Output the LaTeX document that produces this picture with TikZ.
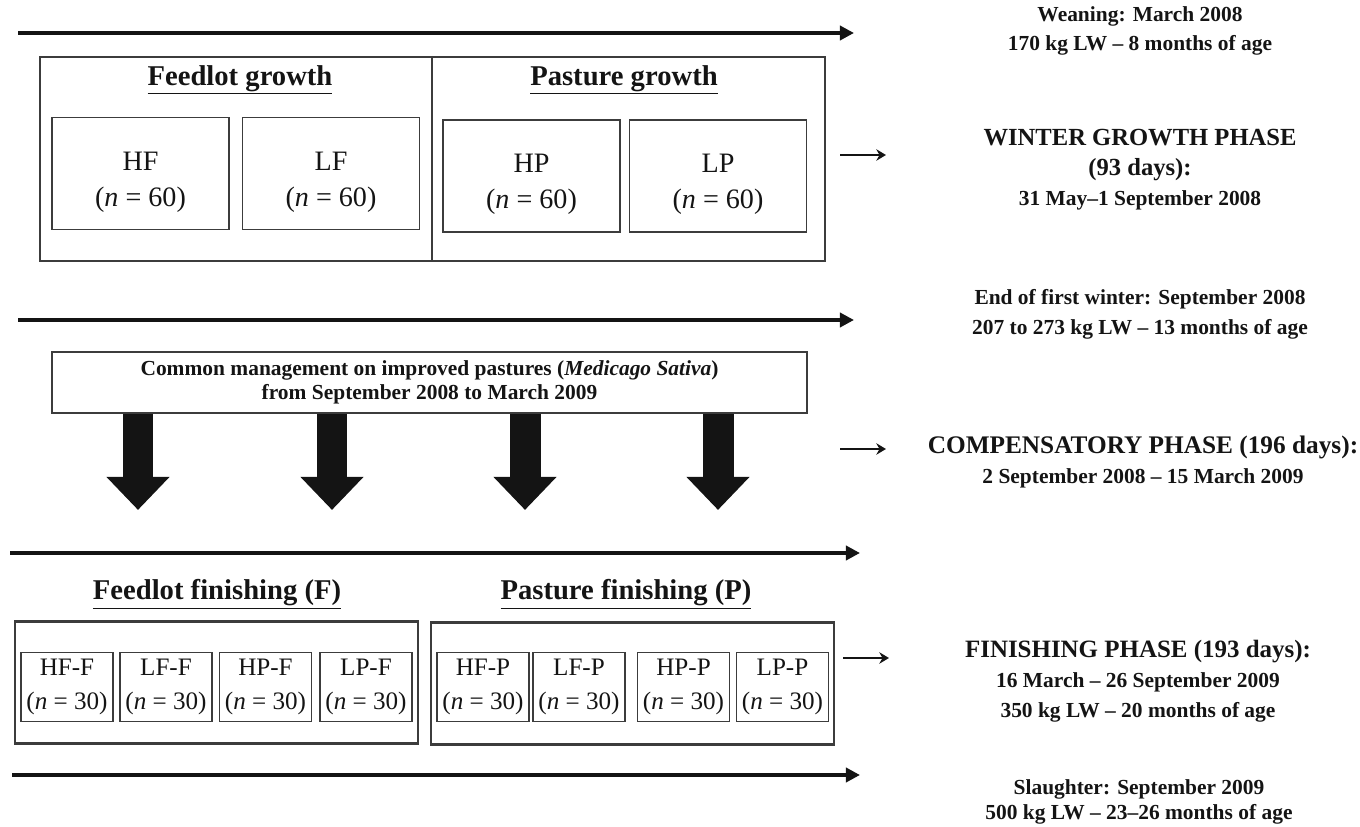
\documentclass[tikz,border=0pt]{standalone}
\usepackage{fontspec}
\setmainfont{Liberation Serif}
\definecolor{tlInk}{HTML}{141414}
\definecolor{tlBox}{HTML}{3C3C3C}
\usetikzlibrary{positioning,arrows.meta}

\tikzset{
  timeline/.style={line width=2.3pt, tlInk, -{Triangle[length=8pt,width=8pt]}},
  pointer/.style={line width=1.1pt, tlInk, -{Stealth[length=5.5pt,width=6.5pt]}},
  bigarrow/.style={line width=0.62cm, tlInk, -{Triangle[length=0.66cm,width=1.22cm]}},
  groupbox/.style={draw=tlBox, line width=1.2pt, minimum width=8.06cm, minimum height=2.44cm},
  grouphead/.style={font=\fontsize{16.3}{19}\selectfont\bfseries, text=tlInk},
  trtbig/.style={draw=tlBox, line width=1.1pt, align=center, minimum width=3.54cm, minimum height=2.24cm,
    font=\fontsize{16}{20.5}\selectfont, text=tlInk},
  trtsmall/.style={draw=tlBox, line width=1.1pt, align=center, minimum width=1.84cm, minimum height=1.38cm,
    inner sep=0pt, font=\fontsize{14.3}{19.3}\selectfont, text=tlInk},
  phasenote/.style={align=center, font=\fontsize{12.2}{17}\selectfont\bfseries, text=tlInk},
}
\newcommand{\trtstrut}{\rule{0pt}{20pt}}

\begin{document}
\begin{tikzpicture}[x=0.02cm,y=-0.02cm]
  \useasboundingbox (0,0) rectangle (1360,827);

  % time lines
  \coordinate (tlA0) at (18,33);   \coordinate (tlA1) at (854,33);
  \coordinate (tlB0) at (18,320);  \coordinate (tlB1) at (854,320);
  \coordinate (tlC0) at (10,553);  \coordinate (tlC1) at (860,553);
  \coordinate (tlD0) at (12,775);  \coordinate (tlD1) at (860,775);
  \draw[timeline] (tlA0) -- (tlA1);
  \draw[timeline] (tlB0) -- (tlB1);
  \draw[timeline] (tlC0) -- (tlC1);
  \draw[timeline] (tlD0) -- (tlD1);

  % winter growth
  \node[groupbox, minimum width=15.7cm, minimum height=4.08cm] (growth) at (432.5,159) {};
  \draw[groupbox] (growth.north -| 432,0) -- (growth.south -| 432,0);
  \node[grouphead] (fgHead) at (240,80) {\underline{Feedlot growth}};
  \node[grouphead] (pgHead) at (624,80) {\underline{Pasture growth}};
  \node[trtbig] (HF) at (140.5,173.5) {\trtstrut HF\\(\textit{n} = 60)};
  \node[trtbig] (LF) at (331,173.5) {\trtstrut LF\\(\textit{n} = 60)};
  \node[trtbig] (HP) at (531.5,176) {\trtstrut HP\\(\textit{n} = 60)};
  \node[trtbig] (LP) at (718,176) {\trtstrut LP\\(\textit{n} = 60)};

  % compensatory
  \node[draw=tlBox, line width=1.1pt, minimum width=15.1cm, minimum height=1.22cm, align=center,
    font=\fontsize{12.2}{13.8}\selectfont\bfseries, text=tlInk] (common) at (429.5,382.5)
    {Common management on improved pastures (\textit{Medicago Sativa})\\from September 2008 to March 2009};
  \foreach \x in {138,332,525,718}
    \draw[bigarrow] (common.south -| \x,0) -- ++(0,96);

  % finishing
  \node[grouphead] (ffHead) at (217,594) {\underline{Feedlot finishing (F)}};
  \node[grouphead] (pfHead) at (626,594) {\underline{Pasture finishing (P)}};
  \node[groupbox] (finF) at (216.5,682.5) {};
  \node[groupbox] (finP) at (632.5,683.5) {};
  \foreach \x/\lab in {67/HF-F,166/LF-F,265.5/HP-F,366/LP-F,483/HF-P,579/LF-P,683.5/HP-P,782.5/LP-P}
    \node[trtsmall] (\lab) at (\x,687) {\lab\\(\textit{n} = 30)};

  % phase notes
  \node[phasenote] (weaning) at (1140,31) {Weaning: March 2008\\170 kg LW -- 8 months of age};
  \node[phasenote] (winter) at (1140,170)
    {\fontsize{14}{17}\selectfont WINTER GROWTH PHASE\\\fontsize{14}{16.5}\selectfont (93 days):\\
     \fontsize{12.2}{14}\selectfont 31 May--1 September 2008};
  \node[phasenote] (endwinter) at (1140,314) {End of first winter: September 2008\\207 to 273 kg LW -- 13 months of age};
  \node[phasenote] (compens) at (1143,462)
    {\fontsize{14.4}{17}\selectfont COMPENSATORY PHASE (196 days):\\\fontsize{12.2}{14.5}\selectfont 2 September 2008 -- 15 March 2009};
  \node[phasenote] (finishing) at (1138,681)
    {\fontsize{14.2}{17}\selectfont FINISHING PHASE (193 days):\\\fontsize{12.2}{14}\selectfont 16 March -- 26 September 2009\\350 kg LW -- 20 months of age};
  \node[phasenote, font=\fontsize{12.2}{14}\selectfont\bfseries] (slaughter) at (1139,802)
    {Slaughter: September 2009\\500 kg LW -- 23--26 months of age};

  % phase pointers
  \coordinate (ptA) at (840,155);  \coordinate (ptB) at (840,449);  \coordinate (ptC) at (843,658);
  \draw[pointer] (ptA) -- ++(46,0);
  \draw[pointer] (ptB) -- ++(46,0);
  \draw[pointer] (ptC) -- ++(46,0);
\end{tikzpicture}
\end{document}
